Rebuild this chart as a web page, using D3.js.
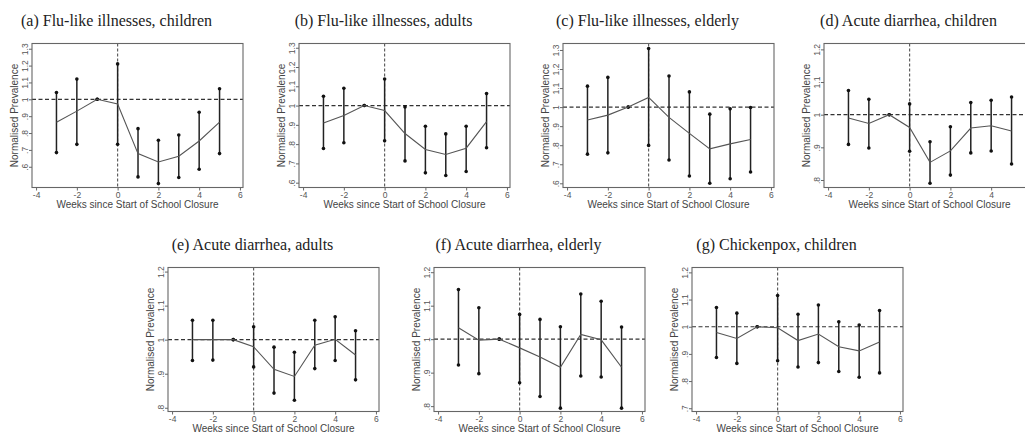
<!DOCTYPE html>
<html>
<head>
<meta charset="utf-8" />
<title>School closure</title>
<script src="https://cdnjs.cloudflare.com/ajax/libs/d3/7.8.5/d3.min.js"></script>
<style>
  body { margin: 0; background: #fff; }
  svg { display: block; }
</style>
</head>
<body>
<svg id="chart" width="1025" height="432"></svg>
<script>
  // weeks relative to closure
  const weeks = [-3, -2, -1, 0, 1, 2, 3, 4, 5]
  const xTicks = [-4, -2, 0, 2, 4, 6]

  const titles = [
    '(a) Flu-like illnesses, children',
    '(b) Flu-like illnesses, adults',
    '(c) Flu-like illnesses, elderly',
    '(d) Acute diarrhea, children',
    '(e) Acute diarrhea, adults',
    '(f) Acute diarrhea, elderly',
    '(g) Chickenpox, children'
  ]

  const fluChildrenMean = [0.864, 0.93, 1, 0.972, 0.678, 0.628, 0.662, 0.753, 0.865]
  const fluChildrenLow  = [0.684, 0.733, 1, 0.733, 0.54, 0.5, 0.536, 0.585, 0.678]
  const fluChildrenHigh = [1.04, 1.12, 1, 1.21, 0.826, 0.757, 0.788, 0.923, 1.063]

  const fluAdultsMean = [0.91, 0.948, 1, 0.974, 0.855, 0.772, 0.746, 0.779, 0.917]
  const fluAdultsLow  = [0.777, 0.807, 1, 0.817, 0.713, 0.651, 0.637, 0.658, 0.781]
  const fluAdultsHigh = [1.048, 1.09, 1, 1.138, 0.993, 0.893, 0.853, 0.893, 1.062]

  const fluElderlyMean = [0.932, 0.958, 1, 1.051, 0.946, 0.862, 0.781, 0.807, 0.83]
  const fluElderlyLow  = [0.753, 0.76, 1, 0.799, 0.722, 0.638, 0.6, 0.624, 0.659]
  const fluElderlyHigh = [1.11, 1.156, 1, 1.308, 1.163, 1.08, 0.963, 0.991, 0.998]

  const diarrheaChildrenMean = [0.99, 0.973, 1, 0.961, 0.854, 0.889, 0.959, 0.966, 0.95]
  const diarrheaChildrenLow  = [0.909, 0.898, 1, 0.888, 0.79, 0.815, 0.883, 0.889, 0.849]
  const diarrheaChildrenHigh = [1.074, 1.047, 1, 1.033, 0.917, 0.963, 1.037, 1.044, 1.054]

  const diarrheaAdultsMean = [1.0, 1.0, 1, 0.979, 0.913, 0.892, 0.984, 1.001, 0.955]
  const diarrheaAdultsLow  = [0.939, 0.94, 1, 0.92, 0.843, 0.822, 0.915, 0.939, 0.882]
  const diarrheaAdultsHigh = [1.057, 1.057, 1, 1.038, 0.978, 0.963, 1.057, 1.067, 1.026]

  const diarrheaElderlyMean = [1.034, 0.997, 1, 0.974, 0.947, 0.916, 1.014, 0.998, 0.916]
  const diarrheaElderlyLow  = [0.923, 0.897, 1, 0.87, 0.829, 0.794, 0.89, 0.887, 0.794]
  const diarrheaElderlyHigh = [1.148, 1.094, 1, 1.074, 1.059, 1.037, 1.135, 1.113, 1.036]

  const chickenpoxMean = [0.979, 0.957, 1, 0.996, 0.949, 0.973, 0.926, 0.911, 0.944]
  const chickenpoxLow  = [0.887, 0.865, 1, 0.875, 0.852, 0.868, 0.835, 0.814, 0.83]
  const chickenpoxHigh = [1.071, 1.05, 1, 1.115, 1.046, 1.08, 1.018, 1.006, 1.06]

  const yTicksFlu = [0.6, 0.7, 0.8, 0.9, 1, 1.1, 1.2, 1.3]
  const yTicksDiarrhea = [0.8, 0.9, 1, 1.1, 1.2]
  const yTicksChickenpox = [0.7, 0.8, 0.9, 1, 1.1, 1.2]

  // axis ranges
  const yRanges = [[0.477, 1.331], [0.575, 1.322], [0.578, 1.334], [0.777, 1.218],
                   [0.789, 1.212], [0.784, 1.214], [0.688, 1.218]]

  const panels = [
    { mean: fluChildrenMean, low: fluChildrenLow, high: fluChildrenHigh, ticks: yTicksFlu },
    { mean: fluAdultsMean, low: fluAdultsLow, high: fluAdultsHigh, ticks: yTicksFlu },
    { mean: fluElderlyMean, low: fluElderlyLow, high: fluElderlyHigh, ticks: yTicksFlu },
    { mean: diarrheaChildrenMean, low: diarrheaChildrenLow, high: diarrheaChildrenHigh, ticks: yTicksDiarrhea },
    { mean: diarrheaAdultsMean, low: diarrheaAdultsLow, high: diarrheaAdultsHigh, ticks: yTicksDiarrhea },
    { mean: diarrheaElderlyMean, low: diarrheaElderlyLow, high: diarrheaElderlyHigh, ticks: yTicksDiarrhea },
    { mean: chickenpoxMean, low: chickenpoxLow, high: chickenpoxHigh, ticks: yTicksChickenpox }
  ]

  // layout of the frames
  const frameLeft = [32, 299, 563, 824, 168, 434, 692]
  const frameTop = [43.5, 43.5, 43.5, 43.5, 267.5, 267.5, 267.5]
  const frameW = 211
  const frameH = 144
  const pageW = 1025

  const svg = d3.select('#chart')

  function stataNum(d) {
    let s = String(+d.toFixed(2))
    return s.replace(/^0\./, '.')
  }

  panels.forEach(function(p, i) {
    const left = frameLeft[i], top = frameTop[i]
    const g = svg.append('g').attr('transform', 'translate(' + left + ',' + top + ')')

    const x = d3.scaleLinear().domain([-4.2, 6.15]).range([0, frameW])
    const y = d3.scaleLinear().domain(yRanges[i]).range([frameH, 0])

    // title
    g.append('text')
      .attr('x', frameW / 2 - 21)
      .attr('y', -17.5)
      .attr('text-anchor', 'middle')
      .style('font-family', '"Liberation Serif", "Times New Roman", serif')
      .style('font-size', '16px')
      .style('fill', '#222')
      .text(titles[i])

    // axes (ticks past the page edge are cropped in the original, so skip them)
    const shownX = xTicks.filter(function(t) { return left + x(t) + 4 < pageW })
    const xAxis = d3.axisBottom(x).tickValues(shownX).tickSize(3).tickPadding(1)
      .tickFormat(function(d) { return d < 0 ? '-' + Math.abs(d) : d })
    const gx = g.append('g').attr('transform', 'translate(0,' + frameH + ')').call(xAxis)

    const yAxis = d3.axisLeft(y).tickValues(p.ticks).tickSize(3).tickFormat(stataNum)
    const gy = g.append('g').call(yAxis)
    gy.selectAll('.tick text')
      .attr('x', 0).attr('dy', 0)
      .attr('text-anchor', 'middle')
      .attr('transform', 'translate(-4.5,0) rotate(-90)')

    ;[gx, gy].forEach(function(a) {
      a.select('.domain').remove()
      a.selectAll('.tick line').attr('stroke', '#666')
      a.selectAll('.tick text')
        .style('font-family', '"Liberation Sans", Arial, sans-serif')
        .style('font-size', '8.5px')
        .style('fill', '#555')
    })

    // axis titles
    g.append('text')
      .attr('x', frameW / 2)
      .attr('y', frameH + 20)
      .attr('text-anchor', 'middle')
      .style('font-family', '"Liberation Sans", Arial, sans-serif')
      .style('font-size', '10px')
      .style('fill', '#444')
      .text('Weeks since Start of School Closure')

    g.append('text')
      .attr('transform', 'translate(-14.5,' + (frameH / 2) + ') rotate(-90)')
      .attr('text-anchor', 'middle')
      .style('font-family', '"Liberation Sans", Arial, sans-serif')
      .style('font-size', '10px')
      .style('fill', '#444')
      .text('Normalised Prevalence')

    // reference lines
    g.append('line')
      .attr('x1', 0).attr('x2', frameW)
      .attr('y1', y(1)).attr('y2', y(1))
      .attr('stroke', '#333').attr('stroke-width', 1.2)
      .attr('stroke-dasharray', '4,2.5')
    g.append('line')
      .attr('x1', x(0)).attr('x2', x(0))
      .attr('y1', 0).attr('y2', frameH)
      .attr('stroke', '#555').attr('stroke-width', 1.1)
      .attr('stroke-dasharray', '3,2')

    const rows = weeks.map(function(w, k) {
      return { w: w, mean: p.mean[k], low: p.low[k], high: p.high[k] }
    })

    // error bars
    g.selectAll('.bar').data(rows).enter().append('line')
      .attr('class', 'bar')
      .attr('x1', function(d) { return x(d.w) })
      .attr('x2', function(d) { return x(d.w) })
      .attr('y1', function(d) { return y(d.low) })
      .attr('y2', function(d) { return y(d.high) })
      .attr('stroke', '#222').attr('stroke-width', 1.5)

    g.selectAll('.cap').data(rows.flatMap(function(d) {
      return [{ w: d.w, v: d.low }, { w: d.w, v: d.high }]
    })).enter().append('circle')
      .attr('class', 'cap')
      .attr('cx', function(d) { return x(d.w) })
      .attr('cy', function(d) { return y(d.v) })
      .attr('r', 1.8)
      .attr('fill', '#111')

    // point estimates
    const line = d3.line()
      .x(function(d) { return x(d.w) })
      .y(function(d) { return y(d.mean) })
    g.append('path')
      .attr('d', line(rows))
      .attr('fill', 'none')
      .attr('stroke', '#555')
      .attr('stroke-width', 1.1)

    // frame
    g.append('rect')
      .attr('width', frameW).attr('height', frameH)
      .attr('fill', 'none')
      .attr('stroke', '#666').attr('stroke-width', 1.1)
  })
</script>
</body>
</html>
